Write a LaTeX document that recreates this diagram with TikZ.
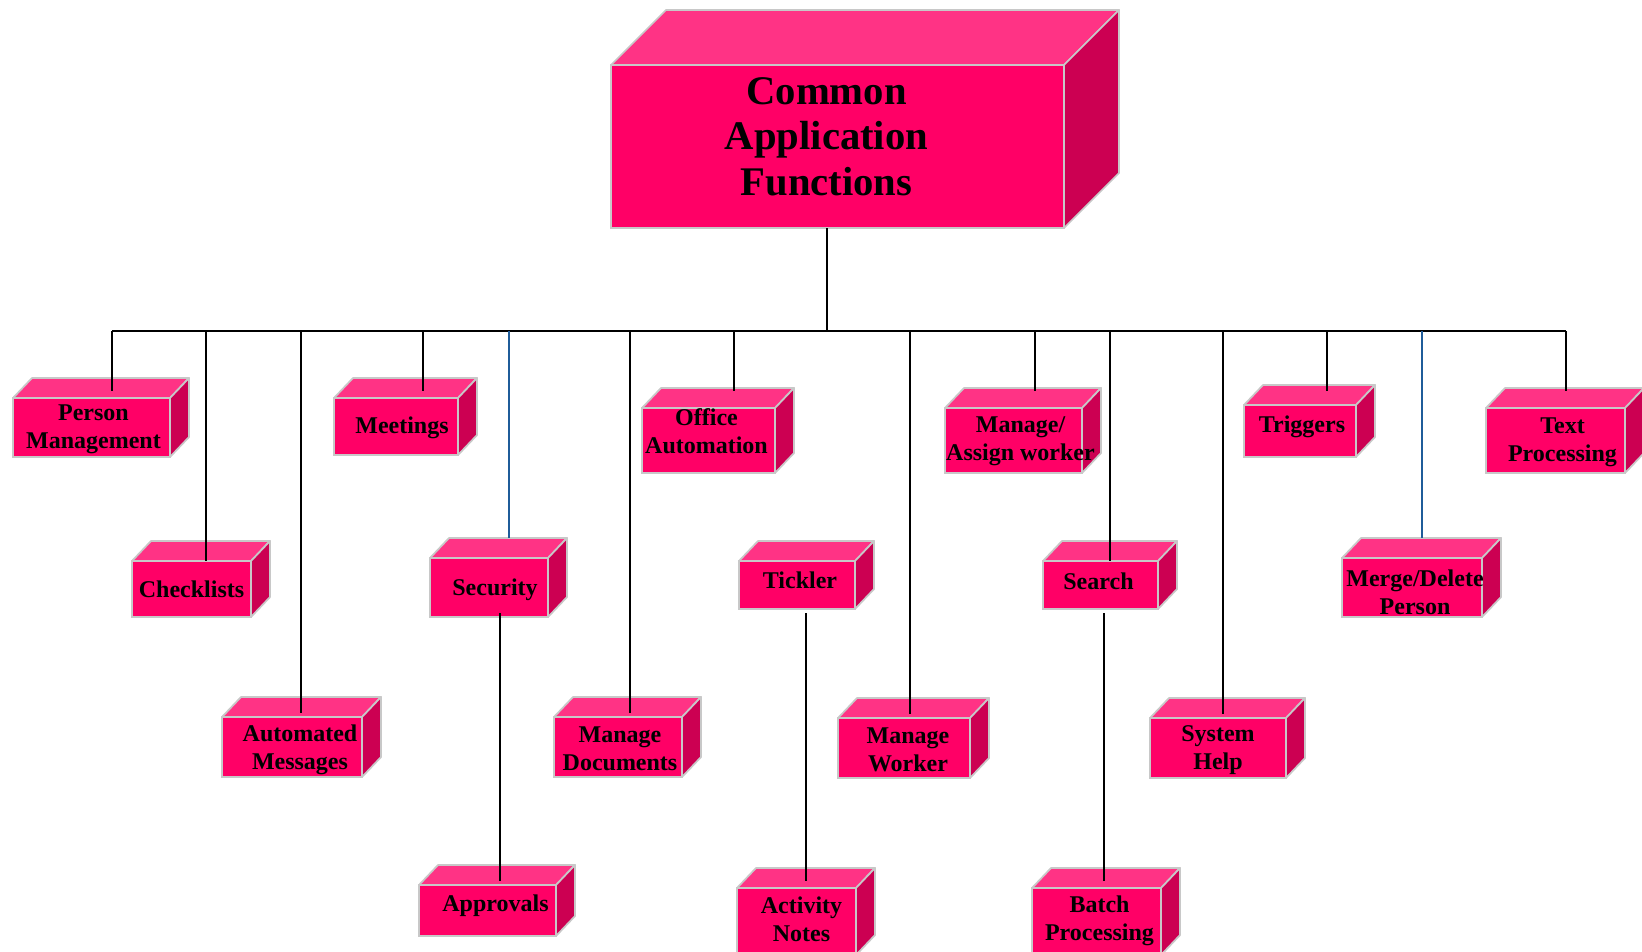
\documentclass[tikz,border=0pt]{standalone}
\usepackage{fontspec}
\setmainfont{Liberation Serif}
\usetikzlibrary{calc}

\definecolor{boxfront}{RGB}{255,0,102}
\definecolor{boxtop}{RGB}{255,51,133}
\definecolor{boxside}{RGB}{204,0,82}
\definecolor{boxedge}{RGB}{200,200,200}
\definecolor{linkblue}{RGB}{31,92,153}

\tikzset{
front/.style={draw=boxedge,fill=boxfront,line width=1.3pt,inner sep=0pt,outer sep=0pt},
topface/.style={draw=boxedge,fill=boxtop,line width=1.3pt,line join=round},
sideface/.style={draw=boxedge,fill=boxside,line width=1.3pt,line join=round},
boxtext/.style={align=center,inner sep=0pt,yshift=-1.5pt,font=\fontsize{18}{21}\selectfont\bfseries},
link/.style={draw=black,line width=1.1pt},
bluelink/.style={draw=linkblue,line width=0.9pt}
}

\begin{document}
\begin{tikzpicture}[x=0.75pt,y=-0.75pt]
\useasboundingbox (0,0) rectangle (1642,951);

% main block
\node[front,minimum width={453*0.75pt},minimum height={163*0.75pt}] (main) at (837.5,146.5) {};
\filldraw[topface] (main.north west) -- ++(55,-55) -- ([shift={(55,-55)}]main.north east) -- (main.north east) -- cycle;
\filldraw[sideface] (main.north east) -- ++(55,-55) -- ([shift={(55,-55)}]main.south east) -- (main.south east) -- cycle;
\node[align=center,inner sep=0pt,font=\fontsize{30.5}{34}\selectfont\bfseries] (main-t) at ([shift={(-11,-10)}]main.center) {Common\\Application\\Functions};

% function blocks
\foreach \n/\xa/\ya/\xb/\yb in {pm/13/398/170/457, cl/132/561/251/617, am/222/717/362/777,
  mt/334/398/458/455, sc/430/558/548/617, ap/419/885/556/936, md/554/717/682/777,
  oa/642/408/775/473, tk/739/561/855/609, an/737/888/856/955, mw/838/718/970/778,
  ma/945/408/1082/473, se/1043/561/1158/609, bp/1032/888/1161/955, sh/1150/718/1286/778,
  tr/1244/405/1356/457, mp/1342/558/1482/617, tp/1486/408/1625/473}
  \node[front,minimum width={(\xb-\xa)*0.75pt},minimum height={(\yb-\ya)*0.75pt}] (\n) at ({(\xa+\xb)/2},{(\ya+\yb)/2}) {};
\foreach \n in {pm,cl,am,mt,sc,ap,md,oa,tk,an,mw,ma,se,bp,sh,tr,mp,tp}{
  \filldraw[topface] (\n.north west) -- ++(19,-20) -- ([shift={(19,-20)}]\n.north east) -- (\n.north east) -- cycle;
  \filldraw[sideface] (\n.north east) -- ++(19,-20) -- ([shift={(19,-20)}]\n.south east) -- (\n.south east) -- cycle;
}

\node[boxtext] (pm-t) at ([shift={(2,0)}]pm.center) {Person\\Management};
\node[boxtext] (cl-t) at ([shift={(0,-2)}]cl.center) {Checklists};
\node[boxtext] (am-t) at ([shift={(8,1)}]am.center) {Automated\\Messages};
\node[boxtext] (mt-t) at ([shift={(6,-1)}]mt.center) {Meetings};
\node[boxtext] (sc-t) at ([shift={(6,0)}]sc.center) {Security};
\node[boxtext] (ap-t) at ([shift={(8,-7)}]ap.center) {Approvals};
\node[boxtext] (md-t) at ([shift={(2,0)}]md.center) {Manage\\Documents};
\node[boxtext] (oa-t) at ([shift={(-2,-11)}]oa.center) {Office\\Automation};
\node[boxtext] (tk-t) at ([shift={(3,-7)}]tk.center) {Tickler};
\node[boxtext] (an-t) at ([shift={(5,-4)}]an.center) {Activity\\Notes};
\node[boxtext] (mw-t) at ([shift={(4,0)}]mw.center) {Manage\\Worker};
\node[boxtext] (ma-t) at ([shift={(7,-1)}]ma.center) {Manage/\\Assign worker};
\node[boxtext] (se-t) at ([shift={(-2,-6)}]se.center) {Search};
\node[boxtext] (bp-t) at ([shift={(3,-3)}]bp.center) {Batch\\Processing};
\node[boxtext] (sh-t) at (sh.center) {System\\Help};
\node[boxtext] (tr-t) at ([shift={(2,-6)}]tr.center) {Triggers};
\node[boxtext] (mp-t) at ([shift={(3,3)}]mp.center) {Merge/Delete\\Person};
\node[boxtext] (tp-t) at ([shift={(7,0)}]tp.center) {Text\\Processing};

% bus
\coordinate (stem) at (827,331);
\coordinate (bus-l) at (112,331);
\coordinate (bus-r) at (1566,331);
\draw[link] (main.south -| stem) -- (stem);
\draw[link] (bus-l) -- (bus-r);
\foreach \n/\bx/\up in {pm/112/7, cl/206/0, am/301/4, mt/423/7, md/630/4, oa/734/17,
  mw/910/4, ma/1035/17, se/1110/0, sh/1223/4, tr/1327/14, tp/1566/17}{
  \coordinate (bus-\n) at (\bx,331);
  \draw[link] (bus-\n) -- ($(bus-\n |- \n.north)+(0,-\up)$);
}
\foreach \n/\bx in {sc/509, mp/1422}{
  \coordinate (bus-\n) at (\bx,331);
  \draw[bluelink] (bus-\n) -- ($(bus-\n |- \n.north)+(0,-20)$);
}

% second level
\coordinate (sc-ap) at (500,613);
\coordinate (tk-an) at (806,613);
\coordinate (se-bp) at (1104,613);
\draw[link] (sc-ap) -- ($(sc-ap |- ap.north)+(0,-4)$);
\draw[link] (tk-an) -- ($(tk-an |- an.north)+(0,-7)$);
\draw[link] (se-bp) -- ($(se-bp |- bp.north)+(0,-7)$);
\end{tikzpicture}
\end{document}
